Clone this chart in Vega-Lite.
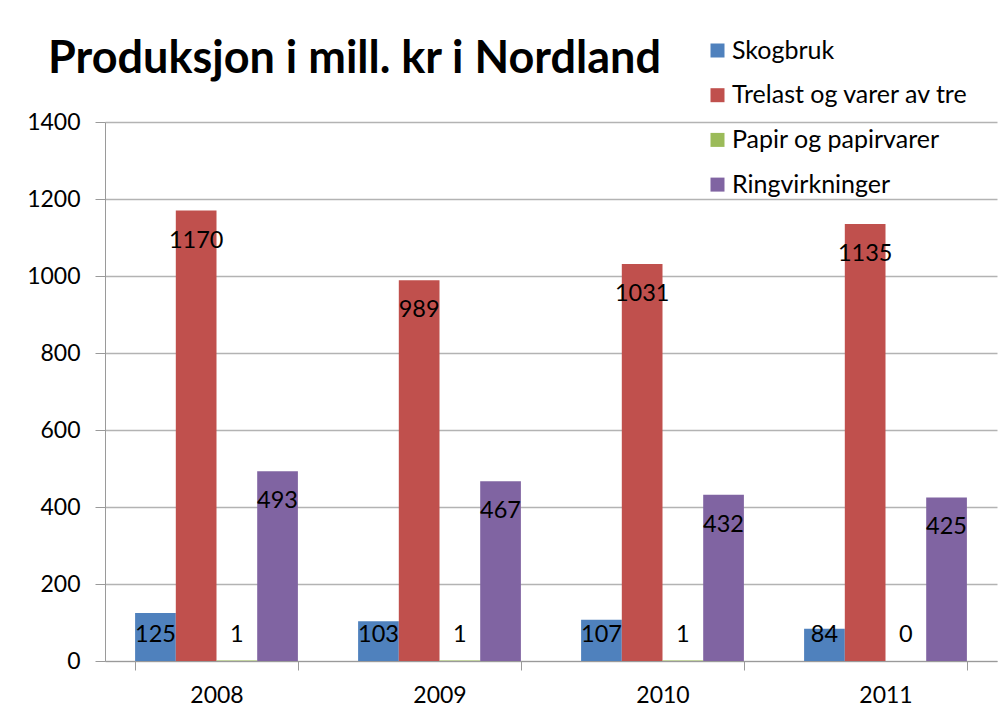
{
  "$schema": "https://vega.github.io/schema/vega-lite/v6.json",
  "autosize": {"type": "none"},
  "width": 892,
  "height": 539,
  "padding": {"left": 105, "top": 122, "right": 11, "bottom": 43},
  "background": "white",
  "config": {
    "font": "Lato",
    "view": {"stroke": null},
    "text": {"font": "Lato"}
  },
  "title": {
    "text": "Produksjon i mill. kr i Nordland",
    "fontSize": 45,
    "fontWeight": "bold",
    "font": "Lato",
    "color": "black",
    "anchor": "start",
    "frame": "group",
    "dx": -57,
    "offset": 0,
    "dy": 80,
    "baseline": "alphabetic"
  },
  "data": {
    "values": [
      {"year": "2008", "series": "Skogbruk", "value": 125},
      {"year": "2008", "series": "Trelast og varer av tre", "value": 1170},
      {"year": "2008", "series": "Papir og papirvarer", "value": 1},
      {"year": "2008", "series": "Ringvirkninger", "value": 493},
      {"year": "2009", "series": "Skogbruk", "value": 103},
      {"year": "2009", "series": "Trelast og varer av tre", "value": 989},
      {"year": "2009", "series": "Papir og papirvarer", "value": 1},
      {"year": "2009", "series": "Ringvirkninger", "value": 467},
      {"year": "2010", "series": "Skogbruk", "value": 107},
      {"year": "2010", "series": "Trelast og varer av tre", "value": 1031},
      {"year": "2010", "series": "Papir og papirvarer", "value": 1},
      {"year": "2010", "series": "Ringvirkninger", "value": 432},
      {"year": "2011", "series": "Skogbruk", "value": 84},
      {"year": "2011", "series": "Trelast og varer av tre", "value": 1135},
      {"year": "2011", "series": "Papir og papirvarer", "value": 0},
      {"year": "2011", "series": "Ringvirkninger", "value": 425}
    ]
  },
  "encoding": {
    "x": {
      "field": "year",
      "type": "nominal",
      "scale": {"paddingInner": 0.27, "paddingOuter": 0.135},
      "axis": {
        "title": null,
        "labelAngle": 0,
        "labelFontSize": 23,
        "labelColor": "black",
        "labelFont": "Lato",
        "labelPadding": 14,
        "tickBand": "extent",
        "tickSize": 9,
        "tickColor": "#9a9a9a",
        "domainColor": "#9a9a9a",
        "grid": false
      }
    },
    "xOffset": {
      "field": "series",
      "type": "nominal",
      "sort": ["Skogbruk", "Trelast og varer av tre", "Papir og papirvarer", "Ringvirkninger"],
      "scale": {"paddingInner": 0, "paddingOuter": 0}
    }
  },
  "layer": [
    {
      "mark": {"type": "bar"},
      "encoding": {
        "y": {
          "field": "value",
          "type": "quantitative",
          "scale": {"domain": [0, 1400]},
          "axis": {
            "title": null,
            "format": "d",
            "values": [0, 200, 400, 600, 800, 1000, 1200, 1400],
            "labelFontSize": 23,
            "labelColor": "black",
            "labelFont": "Lato",
            "labelPadding": 15,
            "tickSize": 10,
            "tickColor": "#9a9a9a",
            "domainColor": "#9a9a9a",
            "gridColor": "#b3b3b3",
            "gridWidth": 1.5
          }
        },
        "color": {
          "field": "series",
          "type": "nominal",
          "sort": ["Skogbruk", "Trelast og varer av tre", "Papir og papirvarer", "Ringvirkninger"],
          "scale": {
            "domain": ["Skogbruk", "Trelast og varer av tre", "Papir og papirvarer", "Ringvirkninger"],
            "range": ["#4F81BD", "#C0504D", "#9BBB59", "#8064A2"]
          },
          "legend": {
            "title": null,
            "orient": "none",
            "legendX": 600,
            "legendY": -84,
            "padding": 0,
            "symbolType": "square",
            "symbolSize": 196,
            "symbolStrokeWidth": 0,
            "labelFontSize": 25,
            "labelFont": "Lato",
            "labelColor": "black",
            "labelOffset": 2,
            "rowPadding": 18.7,
            "labelLimit": 400
          }
        }
      }
    },
    {
      "transform": [{"filter": "datum.value >= 200"}],
      "mark": {"type": "text", "fontSize": 23.5, "color": "black", "baseline": "middle", "dy": 30},
      "encoding": {
        "y": {"field": "value", "type": "quantitative"},
        "text": {"field": "value", "type": "quantitative"}
      }
    },
    {
      "transform": [{"filter": "datum.value < 200"}],
      "mark": {"type": "text", "fontSize": 23.5, "color": "black", "baseline": "middle", "dy": -26},
      "encoding": {
        "y": {"datum": 0, "type": "quantitative"},
        "text": {"field": "value", "type": "quantitative"}
      }
    }
  ]
}
